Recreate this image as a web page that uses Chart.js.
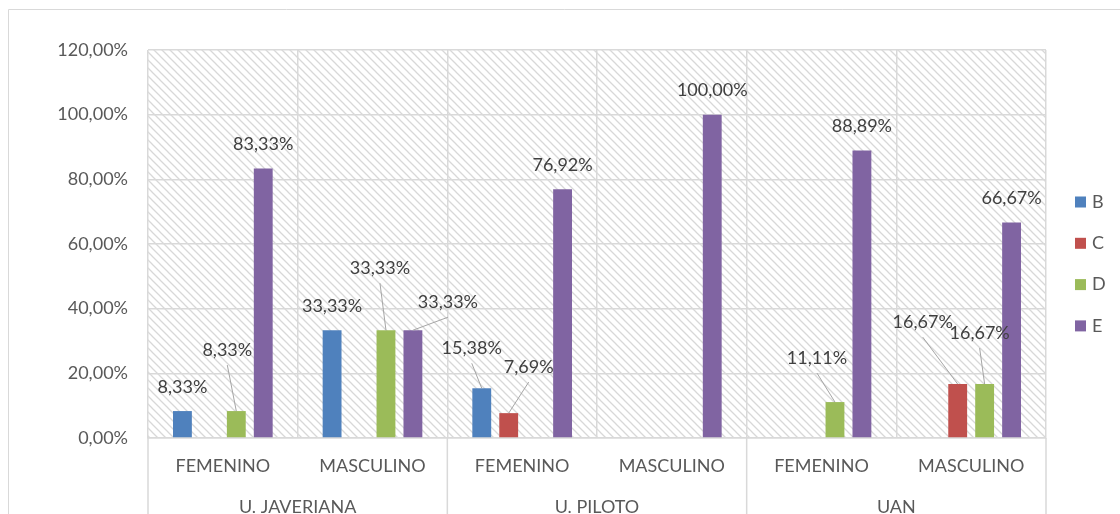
<!DOCTYPE html>
<html>
<head>
<meta charset="utf-8">
<script src="https://cdn.jsdelivr.net/npm/chart.js@4"></script>
<style>
    html, body { margin: 0; padding: 0; background: #ffffff; }
    #wrap { width: 1120px; height: 514px; position: relative; }
</style>
</head>
<body>
<div id="wrap"><canvas id="chart"></canvas></div>
<script>
const categories = ["FEMENINO", "MASCULINO", "FEMENINO", "MASCULINO", "FEMENINO", "MASCULINO"];
const groups = ["U. JAVERIANA", "U. PILOTO", "UAN"];
const yTicks = [0, 20, 40, 60, 80, 100, 120];

const seriesB = [8.33, 33.33, 15.38, null, null, null];
const seriesC = [null, null, 7.69, null, null, 16.67];
const seriesD = [8.33, 33.33, null, null, 11.11, 16.67];
const seriesE = [83.33, 33.33, 76.92, 100, 88.89, 66.67];

const seriesNames = ["B", "C", "D", "E"];
const seriesColors = ["#4f81bd", "#c0504d", "#9bbb59", "#8064a2"];

// labels that were dragged away from their bar (offset of label centre from bar top, px)
const labelShift = {
    "2-0": [-9, -61],
    "2-1": [-6, -62],
    "3-1": [35, -28],
    "0-2": [-10, -40],
    "1-2": [20, -46],
    "2-4": [-18, -44],
    "1-5": [-35, -62],
    "2-5": [-5, -51]
};

const FONT = "Lato, 'DejaVu Sans', sans-serif";
const GRID = "#d9d9d9";

function formatPct(v) {
    return v.toFixed(2).replace(".", ",") + "%";
}

function makeHatch(ctx) {
    const tile = document.createElement("canvas");
    tile.width = 8;
    tile.height = 8;
    const t = tile.getContext("2d");
    t.fillStyle = "#ffffff";
    t.fillRect(0, 0, 8, 8);
    t.strokeStyle = "#d8d8d8";
    t.lineWidth = 1.3;
    t.beginPath();
    t.moveTo(-1, -1); t.lineTo(9, 9);
    t.moveTo(-1, 7); t.lineTo(1, 9);
    t.moveTo(7, -1); t.lineTo(9, 1);
    t.stroke();
    return ctx.createPattern(tile, "repeat");
}

const chartDecor = {
    id: "chartDecor",
    beforeDraw(chart) {
        const { ctx, chartArea: a } = chart;
        ctx.save();
        ctx.strokeStyle = GRID;
        ctx.lineWidth = 1;
        ctx.beginPath();
        ctx.moveTo(8.5, 514);
        ctx.lineTo(8.5, 9.5);
        ctx.lineTo(1120, 9.5);
        ctx.stroke();
        ctx.fillStyle = makeHatch(ctx);
        ctx.fillRect(a.left, a.top, a.right - a.left, a.bottom - a.top);
        ctx.restore();
    },
    afterDraw(chart) {
        const { ctx, chartArea: a } = chart;
        const x = chart.scales.x;
        ctx.save();

        // group separators and group labels
        ctx.strokeStyle = GRID;
        ctx.lineWidth = 1.5;
        const edges = [a.left];
        groups.forEach((g, gi) => {
            const i0 = gi * 2;
            const i1 = i0 + 1;
            const right = gi === groups.length - 1
                ? a.right
                : (x.getPixelForValue(i1) + x.getPixelForValue(i1 + 1)) / 2;
            edges.push(right);
            ctx.fillStyle = "#595959";
            ctx.font = "18px " + FONT;
            ctx.textAlign = "center";
            ctx.textBaseline = "middle";
            ctx.fillText(g, (x.getPixelForValue(i0) + x.getPixelForValue(i1)) / 2, 507);
        });
        edges.forEach(e => {
            ctx.beginPath();
            ctx.moveTo(e, a.bottom);
            ctx.lineTo(e, 514);
            ctx.stroke();
        });

        // data labels with leader lines
        ctx.font = "18px " + FONT;
        ctx.textAlign = "center";
        ctx.textBaseline = "middle";
        chart.data.datasets.forEach((ds, di) => {
            const meta = chart.getDatasetMeta(di);
            ds.data.forEach((v, i) => {
                if (v === null) return;
                const el = meta.data[i];
                const shift = labelShift[di + "-" + i];
                const dx = shift ? shift[0] : 0;
                const dy = shift ? shift[1] : -24;
                const lx = el.x + dx;
                const ly = el.y + dy;
                if (shift) {
                    ctx.strokeStyle = "#a6a6a6";
                    ctx.lineWidth = 1;
                    ctx.beginPath();
                    ctx.moveTo(el.x, el.y);
                    ctx.lineTo(lx, ly + 15);
                    ctx.stroke();
                }
                ctx.fillStyle = "#404040";
                ctx.fillText(formatPct(v), lx, ly);
            });
        });

        // legend
        ctx.textAlign = "left";
        seriesNames.forEach((name, k) => {
            const cy = 202 + k * 41.3;
            ctx.fillStyle = seriesColors[k];
            ctx.fillRect(1075, cy - 5.5, 11, 11);
            ctx.fillStyle = "#595959";
            ctx.fillText(name, 1092, cy);
        });
        ctx.restore();
    }
};

const seriesData = [seriesB, seriesC, seriesD, seriesE];

new Chart(document.getElementById("chart"), {
    type: "bar",
    data: {
        labels: categories,
        datasets: seriesData.map((d, k) => ({
            label: seriesNames[k],
            data: d,
            backgroundColor: seriesColors[k],
            borderWidth: 0,
            categoryPercentage: 0.72,
            barPercentage: 0.7
        }))
    },
    options: {
        responsive: true,
        maintainAspectRatio: false,
        animation: false,
        layout: {
            padding: { top: 50, right: 74, bottom: 0, left: 0 }
        },
        plugins: {
            legend: { display: false },
            tooltip: { enabled: false }
        },
        scales: {
            x: {
                grid: { color: GRID, lineWidth: 1.5, drawTicks: false, offset: true },
                border: { color: GRID, width: 1.5 },
                ticks: {
                    color: "#595959",
                    font: { family: FONT, size: 18 },
                    padding: 17,
                    maxRotation: 0,
                    autoSkip: false
                },
                afterFit(scale) { scale.height = 76; }
            },
            y: {
                min: 0,
                max: 120,
                afterBuildTicks(scale) {
                    scale.ticks = yTicks.map(v => ({ value: v }));
                },
                grid: { color: GRID, lineWidth: 1.5, drawTicks: false },
                border: { display: false },
                ticks: {
                    color: "#595959",
                    font: { family: FONT, size: 18 },
                    padding: 20,
                    callback: v => formatPct(v)
                },
                afterFit(scale) { scale.width = 148; }
            }
        }
    },
    plugins: [chartDecor]
});
</script>
</body>
</html>
